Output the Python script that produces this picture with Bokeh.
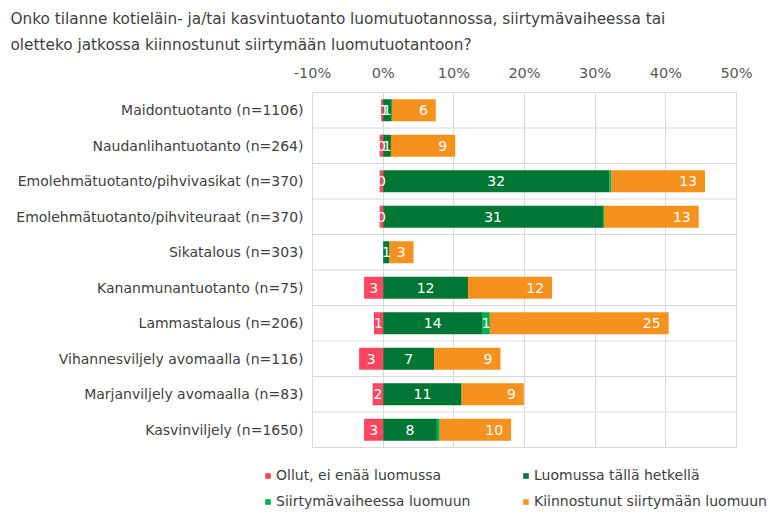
from bokeh.plotting import figure
from bokeh.layouts import column
from bokeh.models import (Range1d, FactorRange, FixedTicker, Span, Title, Legend, LegendItem,
                          ColumnDataSource)
from bokeh.core.properties import value
from bokeh.embed import file_html
from bokeh.resources import INLINE

categories = ["Maidontuotanto (n=1106)", "Naudanlihantuotanto (n=264)",
              "Emolehmätuotanto/pihvivasikat (n=370)", "Emolehmätuotanto/pihviteuraat (n=370)",
              "Sikatalous (n=303)", "Kananmunantuotanto (n=75)", "Lammastalous (n=206)",
              "Vihannesviljely avomaalla (n=116)", "Marjanviljely avomaalla (n=83)",
              "Kasvinviljely (n=1650)"]
ollut = [0.3, 0.5, 0.5, 0.5, 0.0, 2.7, 1.3, 3.4, 1.5, 2.7]
luomussa = [1.1, 1.1, 32.0, 31.1, 0.9, 12.0, 14.0, 7.2, 11.1, 7.6]
siirtyma = [0.15, 0.0, 0.25, 0.15, 0.0, 0.0, 1.1, 0.0, 0.0, 0.4]
kiinnostunut = [6.2, 9.1, 13.3, 13.4, 3.4, 11.9, 25.3, 9.4, 8.8, 10.1]
series_names = ["Ollut, ei enää luomussa", "Luomussa tällä hetkellä",
                "Siirtymävaiheessa luomuun", "Kiinnostunut siirtymään luomuun"]
tick_values = [-10, 0, 10, 20, 30, 40, 50]
tick_labels = ["-10%", "0%", "10%", "20%", "30%", "40%", "50%"]
title_lines = ["Onko tilanne kotieläin- ja/tai kasvintuotanto luomutuotannossa, siirtymävaiheessa tai",
               "oletteko jatkossa kiinnostunut siirtymään luomutuotantoon?"]

colors = ["#FF4560", "#007635", "#00B050", "#F5921E"]
FONT = "DejaVu Sans"
TXT = "#404040"

p = figure(width=773, height=460, output_backend="svg", toolbar_location=None,
           x_range=Range1d(-10, 50), y_range=FactorRange(factors=list(reversed(categories))),
           x_axis_location="above", min_border_left=312, min_border_right=37,
           min_border_bottom=13, min_border_top=0)
p.frame_align = False
p.outline_line_color = "#d9d9d9"
p.background_fill_color = "white"
p.border_fill_color = "white"

# bars
src = ColumnDataSource(dict(
    cat=categories, ollut=ollut, luomussa=luomussa, siirtyma=siirtyma, kiinnostunut=kiinnostunut,
    neg=[-v for v in ollut], zero=[0]*len(categories),
))
H = 0.62
p.hbar(y="cat", left="neg", right="zero", height=H, color=colors[0], line_color=None, source=src)
p.hbar_stack(["luomussa", "siirtyma", "kiinnostunut"], y="cat", height=H,
             color=colors[1:], line_color=None, source=src)

# labels
lab_x, lab_y, lab_t, lab_al, lab_off = [], [], [], [], []
for i, c in enumerate(categories):
    if ollut[i] > 0:
        lab_x.append(-ollut[i] / 2); lab_y.append(c); lab_t.append(str(round(ollut[i])))
        lab_al.append("center"); lab_off.append(0)
    lab_x.append(luomussa[i] / 2); lab_y.append(c); lab_t.append(str(round(luomussa[i])))
    lab_al.append("center"); lab_off.append(0)
    if siirtyma[i] >= 0.5:
        lab_x.append(luomussa[i] + siirtyma[i] / 2); lab_y.append(c); lab_t.append(str(round(siirtyma[i])))
        lab_al.append("center"); lab_off.append(0)
    end = luomussa[i] + siirtyma[i] + kiinnostunut[i]
    lab_x.append(end); lab_y.append(c); lab_t.append(str(round(kiinnostunut[i])))
    lab_al.append("right"); lab_off.append(-8)
lsrc = ColumnDataSource(dict(x=lab_x, y=lab_y, t=lab_t, al=lab_al, off=lab_off))
p.text(x="x", y="y", text="t", text_align="al", x_offset="off", text_baseline="middle",
       text_color="white", text_font=value(FONT), text_font_size="14px", source=lsrc)

# grid
p.xgrid.ticker = FixedTicker(ticks=tick_values)
p.xgrid.grid_line_color = "#d9d9d9"
p.ygrid.grid_line_color = None
for k in range(1, len(categories)):
    p.add_layout(Span(location=k, dimension="width", line_color="#d9d9d9", line_width=1))

# axes
xa = p.xaxis[0]
xa.ticker = FixedTicker(ticks=tick_values)
xa.major_label_overrides = {v: l for v, l in zip(tick_values, tick_labels)}
xa.axis_line_color = None
xa.major_tick_line_color = None
xa.minor_tick_line_color = None
xa.major_label_text_font = FONT
xa.major_label_text_font_size = "14.5px"
xa.major_label_text_color = "#595959"
xa.major_label_standoff = 6

ya = p.yaxis[0]
ya.axis_line_color = None
ya.major_tick_line_color = None
ya.major_label_text_font = FONT
ya.major_label_text_font_size = "14px"
ya.major_label_text_color = TXT
ya.major_label_standoff = 3

# two-line title
p.add_layout(Title(text="\n".join(title_lines), align="left", offset=-302, text_font=FONT,
                   text_font_size="15.3px", text_line_height=1.43, text_color=TXT,
                   text_font_style="normal", standoff=15), "above")

# legend strip below the chart (its own frame spans the full width)
q = figure(width=773, height=66, output_backend="svg", toolbar_location=None,
           x_range=Range1d(-10, 50), y_range=FactorRange(factors=list(reversed(categories))),
           min_border=0, min_border_left=0, min_border_right=0, min_border_top=0, min_border_bottom=0)
q.frame_align = False
q.axis.visible = False
q.grid.visible = False
q.outline_line_color = None
q.border_fill_color = "white"
# zero-height proxies of the same series, only used for the legend swatches
r0 = q.hbar(y="cat", left="neg", right="zero", height=0, color=colors[0], line_color=None, source=src)
rs = q.hbar_stack(["luomussa", "siirtyma", "kiinnostunut"], y="cat", height=0,
                  color=colors[1:], line_color=None, source=src)
rends = [r0] + list(rs)
items = [LegendItem(label=series_names[k], renderers=[rends[k]]) for k in range(4)]
leg = Legend(items=items, ncols=2, orientation="horizontal", location=(264, 16),
             glyph_width=7, glyph_height=7, label_standoff=5, label_width=238, label_height=18,
             spacing=8, padding=0, margin=0, border_line_color=None, background_fill_alpha=0,
             label_text_font=FONT, label_text_font_size="14px", label_text_color=TXT)
q.add_layout(leg, "center")

layout = column(p, q, spacing=0)
open("out.html", "w").write(file_html(layout, INLINE))
